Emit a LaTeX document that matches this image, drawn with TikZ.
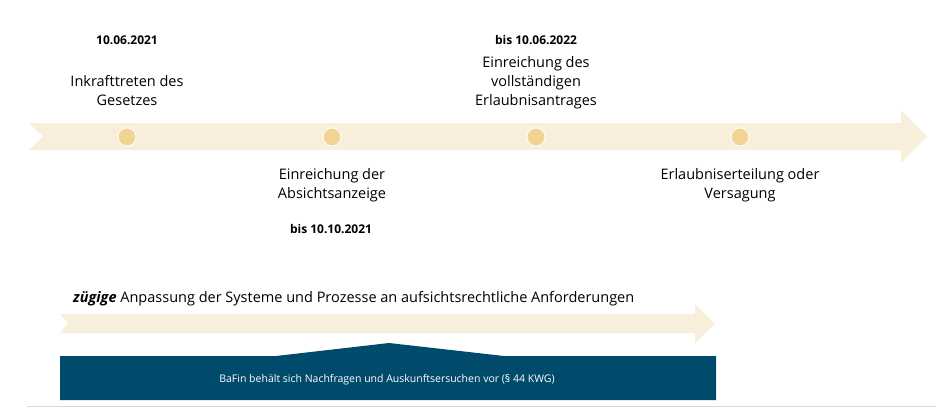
\documentclass[tikz,border=0pt]{standalone}
\usepackage{fontspec}
\setmainfont{Open Sans}
\definecolor{beige}{HTML}{F8EEDC}
\definecolor{dotc}{HTML}{EFD493}
\definecolor{navy}{HTML}{004A6B}
\definecolor{rulec}{HTML}{D9D9D9}
\begin{document}
\begin{tikzpicture}[x=1pt,y=-1pt,
  lbl/.style={align=center,font=\fontsize{14.5}{19}\selectfont,inner sep=0pt,anchor=base},
  datelbl/.style={font=\fontsize{12}{14}\selectfont\bfseries,inner sep=0pt,anchor=base},
  dot/.style={circle,fill=dotc,draw=white,line width=0.8pt,minimum size=18pt,inner sep=0pt}]
\useasboundingbox (0,0) rectangle (948,408);
% main timeline arrow
\fill[beige] (29,123) -- (901,123) -- (901,110) -- (927,136.5) -- (901,163) -- (901,150) -- (29,150) -- (43,136.5) -- cycle;
\node[dot] (d1) at (127,137) {};
\node[dot] (d2) at (332,137) {};
\node[dot] (d3) at (536,137) {};
\node[dot] (d4) at (740,137) {};
% labels
\node[datelbl] (t1) at (127,44) {10.06.2021};
\node[lbl] (l1) at (127,105) {Inkrafttreten des\\Gesetzes};
\node[datelbl] (t3) at (536,44) {bis 10.06.2022};
\node[lbl] (l3) at (536,105) {Einreichung des\\vollständigen\\Erlaubnisantrages};
\node[lbl] (l2) at (332,198) {Einreichung der\\Absichtsanzeige};
\node[datelbl] (t2) at (331,233) {bis 10.10.2021};
\node[lbl] (l4) at (740,198) {Erlaubniserteilung oder\\Versagung};
% second arrow
\fill[beige] (60,314) -- (695,314) -- (695,304) -- (715,323.5) -- (695,343) -- (695,333) -- (60,333) -- (68,323.5) -- cycle;
\node[font=\fontsize{14.5}{17.5}\selectfont,inner sep=0pt,anchor=base west] (za) at (73,302) {\textbf{\textit{zügige}} Anpassung der Systeme und Prozesse an aufsichtsrechtliche Anforderungen};
% navy box
\fill[navy] (60,356) -- (276,356) -- (389,343) -- (504,356) -- (716,356) -- (716,400) -- (60,400) -- cycle;
\node[font=\fontsize{10.5}{12}\selectfont,text=white,inner sep=0pt,anchor=base] (bx) at (387,382) {BaFin behält sich Nachfragen und Auskunftsersuchen vor (§ 44 KWG)};
% bottom rule
\draw[rulec,line width=0.8pt] (27,406) -- (936,406);
\end{tikzpicture}
\end{document}
